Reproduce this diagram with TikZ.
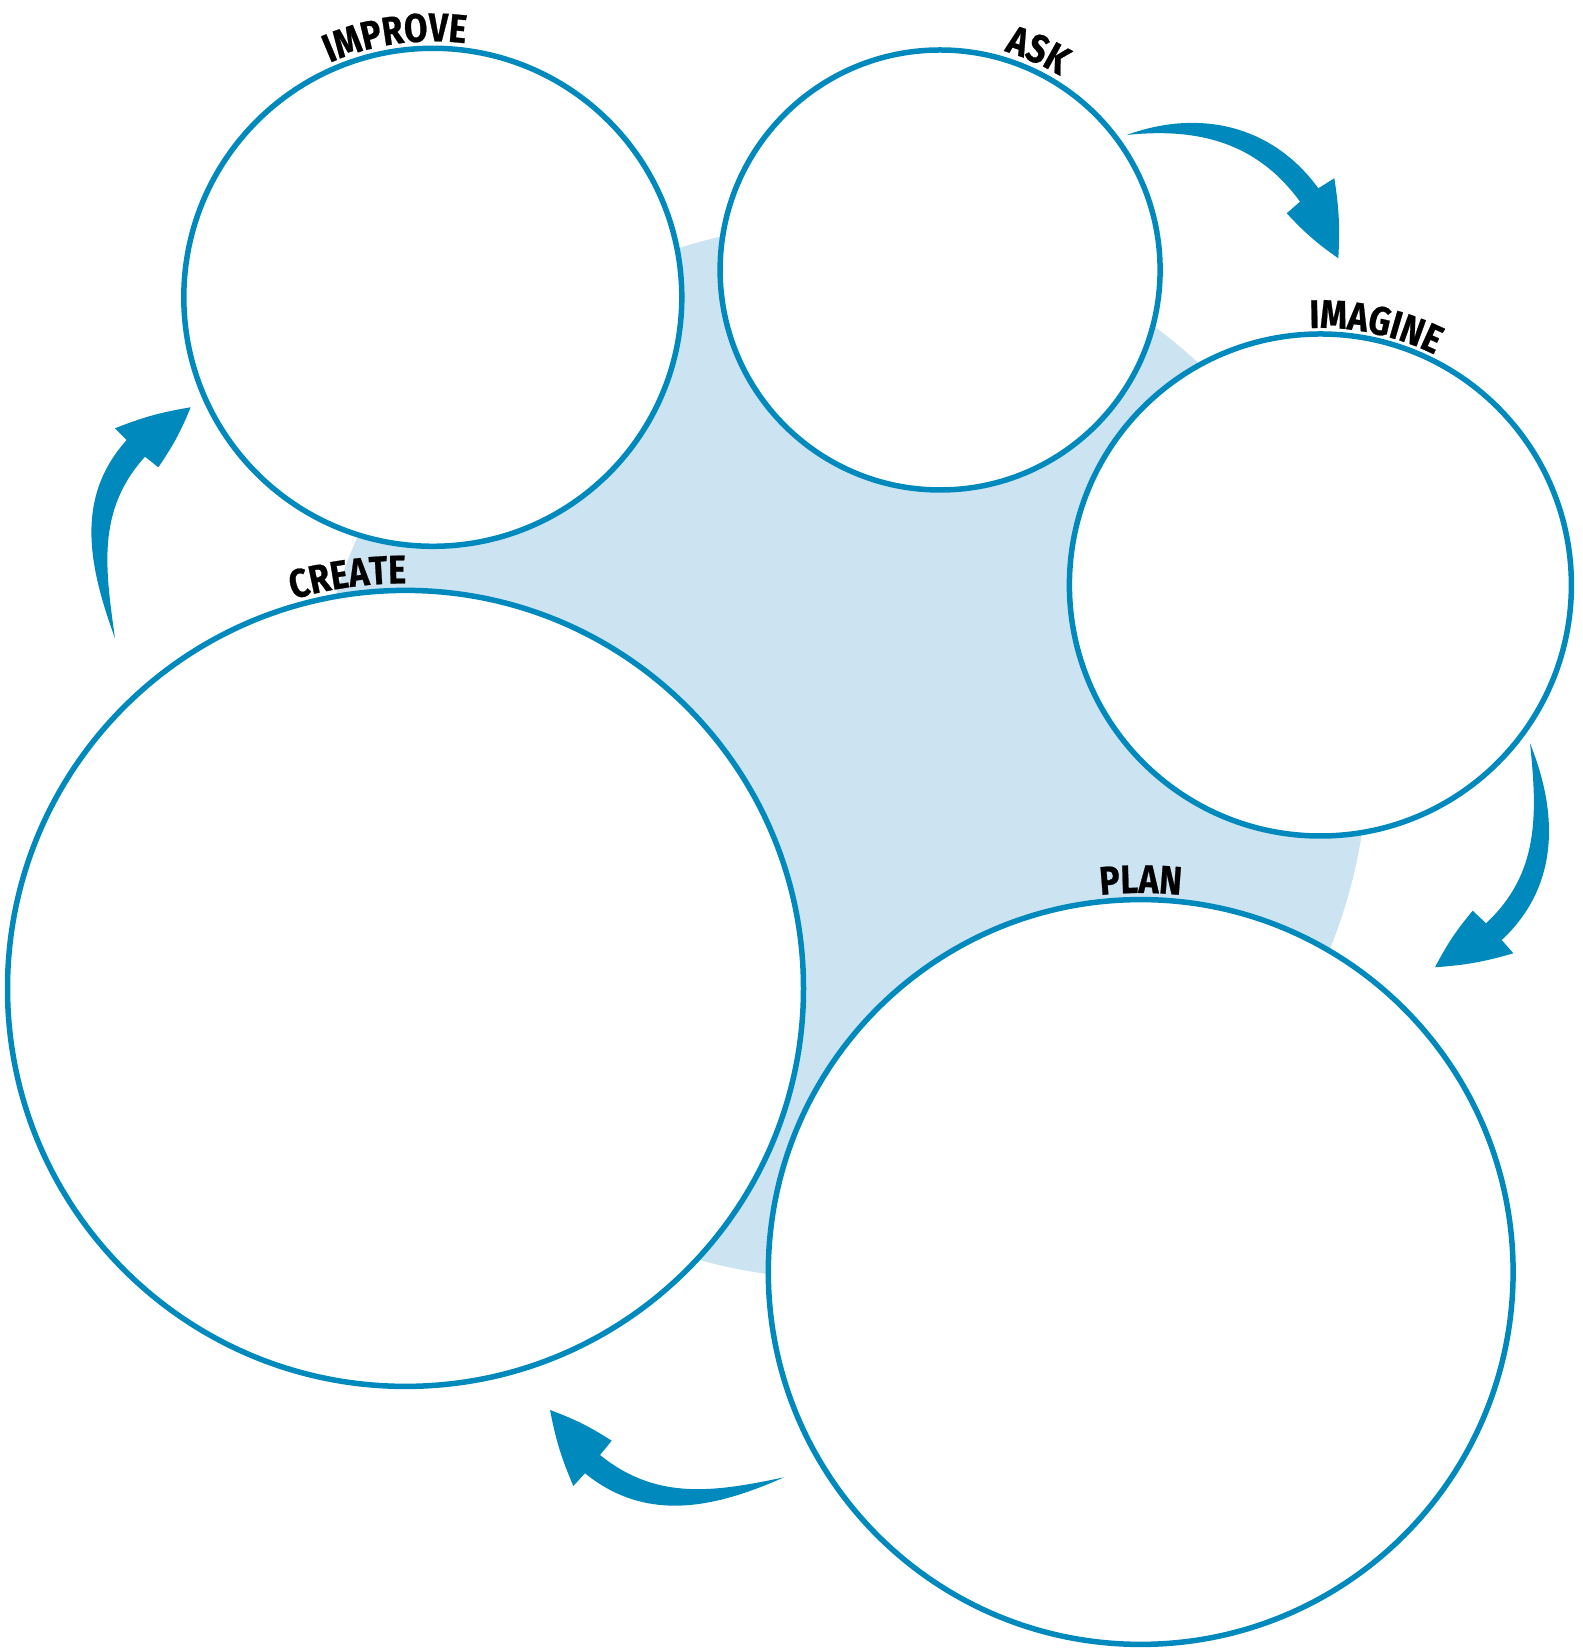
\documentclass[tikz,border=0pt]{standalone}
\usepackage{fontspec}
\newfontfamily\lblfont[FakeStretch=0.85,FakeBold=0.6]{Fira Sans}
\usetikzlibrary{decorations.text}
\definecolor{cblue}{RGB}{0,137,188}
\definecolor{cfill}{RGB}{204,228,241}
\begin{document}
\begin{tikzpicture}[x=0.5pt,y=0.5pt,
  stage/.style={circle, draw=cblue, line width=2.75pt, fill=white, inner sep=0pt},
  cyclearrow/.style={fill=cblue},
  lbl/.style={decorate, decoration={text along path, text align=center,
     text={|\lblfont\bfseries\fontsize{20}{24}\selectfont|#1}}}]
\useasboundingbox (0,0) rectangle (1583,1649);
% background disc
\fill[cfill] (840.3,898) circle[radius=528];
% stage circles
\node[stage, minimum size=249pt]   (improve) at (432.8,1351.7) {};
\node[stage, minimum size=220pt]   (ask)     at (940.1,1379) {};
\node[stage, minimum size=251pt]   (imagine) at (1320.4,1064) {};
\node[stage, minimum size=398pt]   (create)  at (405.5,660.6) {};
\node[stage, minimum size=372.4pt] (plan)    at (1140.7,377) {};
% labels along arcs
\path[lbl=IMPROVE, shift={(improve.center)}] (138.2:256) arc[start angle=138.2, end angle=58.2, radius=256];
\path[lbl=ASK, shift={(ask.center)}] (106:228) arc[start angle=106, end angle=26, radius=228];
\path[lbl=IMAGINE, shift={(imagine.center)}] (118:257) arc[start angle=118, end angle=38, radius=257];
\path[lbl=CREATE, shift={(create.center)}] (128:405) arc[start angle=128, end angle=68, radius=405];
\path[lbl=PLAN, shift={(plan.center)}] (110:379) arc[start angle=110, end angle=70, radius=379];
% arrows
% ASK -> IMAGINE
\coordinate (aT) at (1126.7,1514);
\coordinate (aON) at (1318.3,1460.7);
\coordinate (aOB) at (1334.3,1470.7);
\coordinate (aTip) at (1338.3,1390.7);
\coordinate (aIB) at (1286.7,1435.7);
\coordinate (aIN) at (1300,1447.3);
\fill[cyclearrow] (aT) to[out=20,in=126] (aON) -- (aOB) to[bend left=6] (aTip)
  to[bend left=6] (aIB) -- (aIN) to[out=126,in=6] (aT) -- cycle;
% IMAGINE -> PLAN
\coordinate (bT) at (1530,905.7);
\coordinate (bON) at (1501.7,709);
\coordinate (bOB) at (1513.3,695.7);
\coordinate (bTip) at (1435,681.7);
\coordinate (bIB) at (1472.7,738.3);
\coordinate (bIN) at (1486,725.7);
\fill[cyclearrow] (bT) to[out=-68,in=43] (bON) -- (bOB) to[bend left=6] (bTip)
  to[bend left=6] (bIB) -- (bIN) to[out=43,in=-84] (bT) -- cycle;
% PLAN -> CREATE
\coordinate (cT) at (784,171.7);
\coordinate (cON) at (585,175.7);
\coordinate (cOB) at (573.3,163);
\coordinate (cTip) at (550,239);
\coordinate (cIB) at (611.7,208.3);
\coordinate (cIN) at (600,194);
\fill[cyclearrow] (cT) to[out=204,in=-39] (cON) -- (cOB) to[bend left=6] (cTip)
  to[bend left=6] (cIB) -- (cIN) to[out=-39,in=192] (cT) -- cycle;
% CREATE -> IMPROVE
\coordinate (dT) at (115,1010.7);
\coordinate (dON) at (126.7,1209);
\coordinate (dOB) at (115,1220.7);
\coordinate (dTip) at (190.7,1241.7);
\coordinate (dIB) at (158.3,1181.7);
\coordinate (dIN) at (145,1192.3);
\fill[cyclearrow] (dT) to[out=110,in=228] (dON) -- (dOB) to[bend left=6] (dTip)
  to[bend left=6] (dIB) -- (dIN) to[out=228,in=98] (dT) -- cycle;
\end{tikzpicture}
\end{document}
